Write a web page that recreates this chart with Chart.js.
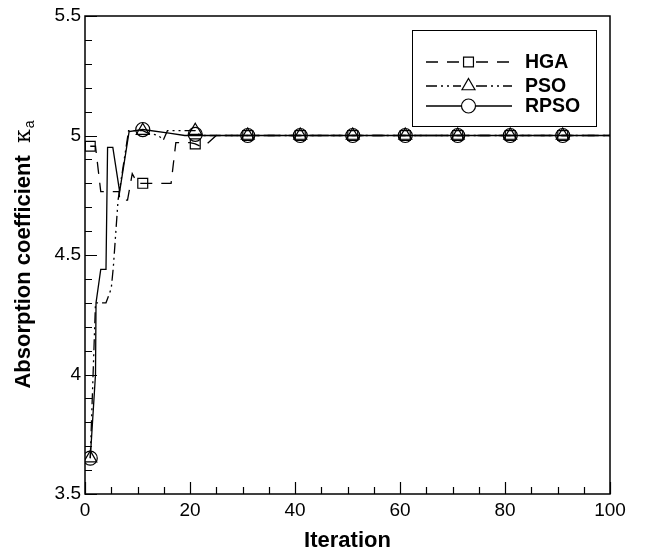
<!DOCTYPE html>
<html>
<head>
<meta charset="utf-8">
<script src="https://cdn.jsdelivr.net/npm/chart.js@4"></script>
<style>
  body { margin: 0; background: #fff; }
</style>
</head>
<body>
<canvas id="chart" width="645" height="552"></canvas>
<script>
// curves (iteration, absorption coefficient)
const hgaIter = [1, 2, 3, 6.5, 6.6, 8.1, 9, 10, 16.4, 17.3, 20, 21, 22, 23, 24, 25, 100];
const hgaVals = [4.955, 4.955, 4.765, 4.765, 4.73, 4.73, 4.84, 4.80, 4.80, 4.97, 4.97, 4.965, 4.955, 4.96, 4.98, 5.0, 5.0];

const psoIter = [1, 2, 4, 5, 5.4, 6.3, 8.3, 11, 12, 14, 14.9, 15.7, 21, 22, 100];
const psoVals = [3.65, 4.30, 4.30, 4.36, 4.45, 4.73, 5.02, 5.02, 5.01, 5.0, 4.98, 5.02, 5.02, 5.0, 5.0];

const rpsoIter = [1, 2, 2.1, 3, 4, 4.3, 5.3, 6.6, 8.4, 11, 16, 19, 100];
const rpsoVals = [3.65, 4.0, 4.30, 4.44, 4.44, 4.95, 4.95, 4.765, 5.016, 5.025, 5.01, 5.0, 5.0];

// symbols are only plotted every 10 iterations
const markerIter = [1, 11, 21, 31, 41, 51, 61, 71, 81, 91];
const hgaMarks = [4.955, 4.80, 4.965, 5, 5, 5, 5, 5, 5, 5];
const psoMarks = [3.65, 5.02, 5.02, 5, 5, 5, 5, 5, 5, 5];
const rpsoMarks = [3.65, 5.025, 5.005, 5, 5, 5, 5, 5, 5, 5];

const xTicks = [0, 20, 40, 60, 80, 100];
const yTicks = [3.5, 4, 4.5, 5, 5.5];

const seriesNames = ['HGA', 'PSO', 'RPSO'];

const dashHGA = [12, 9];
const dashPSO = [11, 4, 2, 4, 2, 4];
const styles = [
  { dash: dashHGA, point: 'rect', radius: 7 },
  { dash: dashPSO, point: 'triangle', radius: 7.5 },
  { dash: [], point: 'circle', radius: 7 }
];

function zip(xs, ys) {
  return xs.map(function (x, i) { return { x: x, y: ys[i] }; });
}

function lineSet(label, xs, ys, dash) {
  return {
    label: label,
    data: zip(xs, ys),
    borderColor: '#000',
    borderWidth: 1.3,
    borderDash: dash,
    pointRadius: 0,
    fill: false,
    tension: 0
  };
}

function markSet(label, ys, st) {
  return {
    label: label,
    data: zip(markerIter, ys),
    showLine: false,
    pointStyle: st.point,
    pointRadius: st.radius,
    pointBorderColor: '#000',
    pointBackgroundColor: 'rgba(0,0,0,0)',
    pointBorderWidth: 1.2
  };
}

const FONT = '"Liberation Sans", Arial, Helvetica, sans-serif';

// frame, inward ticks, legend box and axis titles
const decorations = {
  id: 'decorations',
  afterDatasetsDraw: function (chart) {
    const ctx = chart.ctx;
    const a = chart.chartArea;
    const xs = chart.scales.x;
    const ys = chart.scales.y;
    ctx.save();
    ctx.strokeStyle = '#000';
    ctx.setLineDash([]);

    // ticks
    ctx.lineWidth = 1.2;
    ctx.beginPath();
    for (let v = 0; v <= 100; v += 5) {
      const px = Math.round(xs.getPixelForValue(v)) + 0.5;
      const len = v % 20 === 0 ? 12 : 7;
      ctx.moveTo(px, a.bottom);
      ctx.lineTo(px, a.bottom - len);
    }
    for (let i = 0; i <= 20; i++) {
      const v = 3.5 + i * 0.1;
      const py = Math.round(ys.getPixelForValue(v)) + 0.5;
      const len = i % 5 === 0 ? 12 : 7;
      ctx.moveTo(a.left, py);
      ctx.lineTo(a.left + len, py);
    }
    ctx.stroke();

    // frame
    ctx.lineWidth = 1.5;
    ctx.strokeRect(a.left, a.top, a.right - a.left, a.bottom - a.top);

    // legend
    const box = { l: 412, t: 30, r: 596, b: 126 };
    ctx.fillStyle = '#fff';
    ctx.fillRect(box.l, box.t, box.r - box.l, box.b - box.t);
    ctx.lineWidth = 1;
    ctx.strokeRect(box.l + 0.5, box.t + 0.5, box.r - box.l, box.b - box.t);
    const rows = [62, 86, 106];
    seriesNames.forEach(function (name, i) {
      const y = rows[i];
      const st = styles[i];
      ctx.lineWidth = 1.3;
      ctx.setLineDash(st.dash);
      ctx.beginPath();
      ctx.moveTo(426, y);
      ctx.lineTo(461, y);
      ctx.moveTo(476, y);
      ctx.lineTo(512, y);
      ctx.stroke();
      ctx.setLineDash([]);
      ctx.fillStyle = 'rgba(0,0,0,0)';
      ctx.lineWidth = 1.2;
      Chart.helpers.drawPoint(ctx, {
        pointStyle: st.point, rotation: 0, radius: st.radius, borderWidth: 1.2
      }, 468.5, y);
      ctx.fillStyle = '#000';
      ctx.font = 'bold 19.5px ' + FONT;
      ctx.textAlign = 'left';
      ctx.textBaseline = 'middle';
      ctx.fillText(name, 525, y + 1);
    });

    // x title
    ctx.fillStyle = '#000';
    ctx.font = 'bold 22px ' + FONT;
    ctx.textAlign = 'center';
    ctx.textBaseline = 'middle';
    ctx.fillText('Iteration', (a.left + a.right) / 2, 541);

    // y title with kappa_a
    const main = 'Absorption coefficient  ';
    ctx.translate(22, (a.top + a.bottom) / 2);
    ctx.rotate(-Math.PI / 2);
    ctx.font = 'bold 22px ' + FONT;
    const w1 = ctx.measureText(main).width;
    ctx.font = '22px "DejaVu Serif", serif';
    const w2 = ctx.measureText('κ').width;
    ctx.font = '14px ' + FONT;
    const w3 = ctx.measureText('a').width;
    let x0 = -(w1 + w2 + w3) / 2;
    ctx.textAlign = 'left';
    ctx.textBaseline = 'alphabetic';
    ctx.font = 'bold 22px ' + FONT;
    ctx.fillText(main, x0, 8);
    ctx.font = '22px "DejaVu Serif", serif';
    ctx.fillText('κ', x0 + w1, 8);
    ctx.font = '14px ' + FONT;
    ctx.fillText('a', x0 + w1 + w2 + 1, 12);
    ctx.restore();
  }
};

new Chart(document.getElementById('chart').getContext('2d'), {
  type: 'line',
  data: {
    datasets: [
      lineSet('HGA', hgaIter, hgaVals, dashHGA),
      lineSet('PSO', psoIter, psoVals, dashPSO),
      lineSet('RPSO', rpsoIter, rpsoVals, []),
      markSet('HGA', hgaMarks, styles[0]),
      markSet('PSO', psoMarks, styles[1]),
      markSet('RPSO', rpsoMarks, styles[2])
    ]
  },
  options: {
    responsive: false,
    animation: false,
    layout: { padding: { top: 16, right: 35, left: 0, bottom: 0 } },
    plugins: {
      legend: { display: false },
      tooltip: { enabled: false }
    },
    scales: {
      x: {
        type: 'linear',
        min: 0,
        max: 100,
        grid: { display: false, drawTicks: false },
        border: { display: false },
        afterBuildTicks: function (s) { s.ticks = xTicks.map(function (v) { return { value: v }; }); },
        afterFit: function (s) { s.height = 58; },
        ticks: {
          color: '#000',
          font: { family: FONT, size: 19 },
          padding: 5,
          maxRotation: 0,
          callback: function (v) { return String(v); }
        }
      },
      y: {
        type: 'linear',
        min: 3.5,
        max: 5.5,
        grid: { display: false, drawTicks: false },
        border: { display: false },
        afterBuildTicks: function (s) { s.ticks = yTicks.map(function (v) { return { value: v }; }); },
        afterFit: function (s) { s.width = 85; },
        ticks: {
          color: '#000',
          font: { family: FONT, size: 19 },
          padding: 4,
          callback: function (v) { return String(v); }
        }
      }
    }
  },
  plugins: [decorations]
});
</script>
</body>
</html>
